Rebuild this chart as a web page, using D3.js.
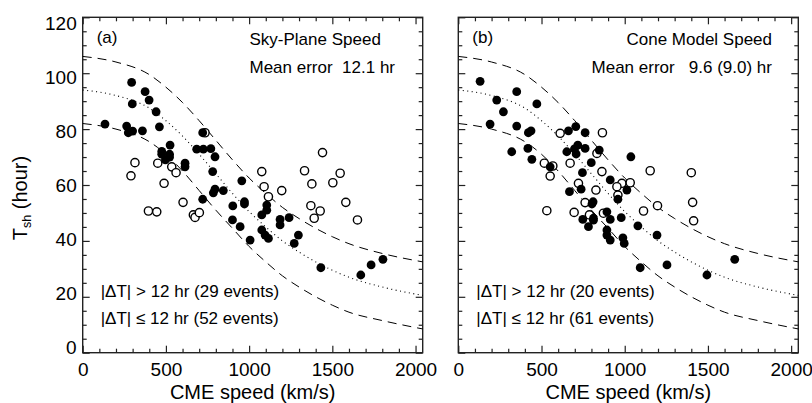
<!DOCTYPE html>
<html>
<head>
<meta charset="utf-8">
<script src="https://cdn.jsdelivr.net/npm/d3@7"></script>
<style>
  body { margin: 0; background: #fff; }
  svg text { font-family: "Liberation Sans", Arial, Helvetica, sans-serif; fill: #000; white-space: pre; }
</style>
</head>
<body>
<svg id="chart" width="812" height="403"></svg>
<script>
// model curves (speed km/s -> hours)
var curveSpeed = [0, 200, 400, 500, 600, 700, 800, 900, 1000, 1100, 1200, 1300, 1400, 1500, 1600, 1800, 2043];
var midHours   = [94, 92, 87.5, 83, 77.5, 71, 64, 57, 50.5, 45, 40, 36, 32.5, 29.5, 27, 23.5, 20.5];
var upperHours = [106, 104, 99.5, 95, 89.5, 83, 76, 69, 62.5, 57, 52, 48, 44.5, 41.5, 39, 35.5, 32.5];
var lowerHours = [82, 80, 75.5, 71, 65, 58, 51, 44.5, 38, 32.5, 27.5, 23.5, 20, 17, 14.5, 11.5, 8.5];

// panel (a): sky-plane speed
var skyGood = [[294,96.7],[375,93.4],[399,90.4],[298,89.0],[441,86.2],[134,81.8],[264,81.1],[274,78.7],[300,79.3],
  [359,79.4],[461,80.8],[721,78.7],[685,72.8],[725,72.8],[770,73.0],[795,70.1],[525,74.3],[475,72.0],[475,71.0],
  [522,71.0],[522,70.0],[497,69.0],[615,67.8],[615,66.5],[781,64.8],[956,61.5],[795,58.5],[845,58.0],[785,57.2],
  [721,54.9],[902,52.5],[972,54.0],[972,53.2],[1106,52.8],[1106,51.0],[1076,49.3],[900,47.5],[946,45.1],[1006,40.3],
  [1076,43.9],[1096,42.1],[1116,40.9],[1186,47.7],[1186,45.7],[1240,48.3],[1296,42.1],[1271,39.1],[1431,30.4],
  [1804,33.4],[1733,31.4],[1671,27.8]];
var skyBad = [[314,68.0],[290,63.3],[489,60.6],[451,67.8],[535,66.5],[561,64.4],[1076,64.8],[1333,65.1],[1441,71.6],
  [1377,60.4],[1503,60.8],[1547,64.2],[1090,59.4],[1196,58.0],[1116,55.8],[603,53.8],[1581,53.8],[735,78.7],
  [395,50.7],[445,50.4],[665,49.3],[675,48.4],[701,50.1],[1371,52.6],[1427,50.7],[1391,48.1],[1651,47.5]];

// panel (b): cone model speed
var coneGood = [[131,97.1],[351,93.4],[231,90.4],[271,86.2],[472,89.0],[191,81.8],[351,81.1],[421,78.7],[437,79.4],
  [321,71.9],[418,73.1],[442,69.2],[552,66.5],[662,79.4],[706,80.9],[762,78.7],[652,71.9],[698,72.9],[708,71.1],
  [718,74.3],[762,73.1],[847,72.5],[799,68.0],[746,64.4],[1037,70.1],[913,61.8],[1013,58.2],[668,57.6],[738,58.5],
  [803,53.2],[810,54.0],[959,54.9],[748,47.7],[782,45.1],[812,48.1],[812,47.4],[893,50.4],[913,47.7],[979,48.3],
  [893,43.9],[893,42.1],[913,40.3],[989,41.1],[997,39.1],[1079,45.4],[1194,42.1],[1093,30.4],[1254,31.4],
  [1494,27.8],[1661,33.4]];
var coneBad = [[866,78.7],[612,78.5],[833,71.3],[672,67.8],[517,67.8],[568,66.8],[552,63.2],[863,64.8],[1153,65.1],
  [1400,64.4],[722,60.6],[827,58.2],[983,60.6],[1033,60.8],[953,59.4],[959,56.4],[1197,52.6],[1408,53.8],
  [1414,47.2],[1113,50.7],[532,50.8],[696,50.2],[762,53.7],[788,49.3],[872,49.9]];

var xTicks = [0, 500, 1000, 1500, 2000];
var yTicks = [0, 20, 40, 60, 80, 100, 120];

var panels = [
  {left: 82.7, good: skyGood, bad: skyBad, tag: "(a)", title: "Sky-Plane Speed", err: "Mean error  12.1 hr",
   anchor: "start", textX: 249.5, big: "|ΔT| > 12 hr (29 events)", small: "|ΔT| ≤ 12 hr (52 events)"},
  {left: 458.3, good: coneGood, bad: coneBad, tag: "(b)", title: "Cone Model Speed", err: "Mean error   9.6 (9.0) hr",
   anchor: "end", textX: 772, big: "|ΔT| > 12 hr (20 events)", small: "|ΔT| ≤ 12 hr (61 events)"}
];

var plotTop = 17.3, plotBottom = 352.7, pw = 340;
var svg = d3.select("#chart");

var y = d3.scaleLinear().domain([0, 120]).range([plotBottom, plotTop]);
// tick labels sit a little inside the end ticks, as in the original
var yLab = d3.scaleLinear().domain([0, 120]).range([plotBottom - 5.5, plotTop + 6]);

panels.forEach(function(p, i) {
  var x = d3.scaleLinear().domain([0, 2043]).range([p.left, p.left + pw]);
  var g = svg.append("g");

  // frame
  g.append("rect")
    .attr("x", p.left).attr("y", plotTop)
    .attr("width", pw).attr("height", plotBottom - plotTop)
    .attr("fill", "none").attr("stroke", "#222").attr("stroke-width", 1.4);

  // ticks on all four sides
  function tickAxis(gen, scale, vals, size, tx, ty, labels) {
    var a = g.append("g").attr("transform", "translate(" + tx + "," + ty + ")")
      .call(gen(scale).tickValues(vals).tickSize(-size).tickPadding(labels ? 10 : 0)
        .tickFormat(labels ? d3.format("d") : ""));
    a.select(".domain").remove();
    a.selectAll("line").attr("stroke", "#222").attr("stroke-width", 1.2);
    a.selectAll("text").style("font-size", "19px").attr("fill", "#000");
    return a;
  }
  var xMinor = d3.range(0, 2001, 100).filter(function(v) { return v % 500 !== 0; });
  var yMinor = d3.range(0, 121, 5).filter(function(v) { return v % 20 !== 0; });

  tickAxis(d3.axisBottom, x, xTicks, 7, 0, plotBottom, true);
  tickAxis(d3.axisBottom, x, xMinor, 4, 0, plotBottom, false);
  tickAxis(d3.axisTop, x, xTicks, 7, 0, plotTop, false);
  tickAxis(d3.axisTop, x, xMinor, 4, 0, plotTop, false);
  tickAxis(d3.axisLeft, y, yTicks, 7, p.left, 0, false);
  tickAxis(d3.axisLeft, y, yMinor, 4, p.left, 0, false);
  tickAxis(d3.axisRight, y, yTicks, 7, p.left + pw, 0, false);
  tickAxis(d3.axisRight, y, yMinor, 4, p.left + pw, 0, false);

  if (i === 0) {
    g.append("g").attr("transform", "translate(" + p.left + ",0)")
      .call(d3.axisLeft(yLab).tickValues(yTicks).tickSize(0).tickPadding(6))
      .call(function(a) {
        a.select(".domain").remove();
        a.selectAll("text").style("font-size", "19px").attr("fill", "#000");
      });
  }

  // model curves
  var line = d3.line()
    .x(function(d, j) { return x(curveSpeed[j]); })
    .y(function(d) { return y(d); })
    .curve(d3.curveMonotoneX);
  g.append("path").attr("d", line(upperHours))
    .attr("fill", "none").attr("stroke", "#000").attr("stroke-width", 1).attr("stroke-dasharray", "9,6");
  g.append("path").attr("d", line(lowerHours))
    .attr("fill", "none").attr("stroke", "#000").attr("stroke-width", 1).attr("stroke-dasharray", "9,6");
  g.append("path").attr("d", line(midHours))
    .attr("fill", "none").attr("stroke", "#000").attr("stroke-width", 1.1).attr("stroke-dasharray", "1,3.5");

  // events
  g.selectAll("circle.bad").data(p.bad).enter().append("circle")
    .attr("class", "bad")
    .attr("cx", function(d) { return x(d[0]); })
    .attr("cy", function(d) { return y(d[1]); })
    .attr("r", 4.1)
    .attr("fill", "#fff").attr("stroke", "#000").attr("stroke-width", 1.4);
  g.selectAll("circle.good").data(p.good).enter().append("circle")
    .attr("class", "good")
    .attr("cx", function(d) { return x(d[0]); })
    .attr("cy", function(d) { return y(d[1]); })
    .attr("r", 4.4)
    .attr("fill", "#000");

  // labels
  g.append("text").attr("x", p.left + 14).attr("y", 43).style("font-size", "17px").text(p.tag);
  g.append("text").attr("x", p.textX).attr("y", 45).attr("text-anchor", p.anchor)
    .style("font-size", "17px").text(p.title);
  g.append("text").attr("x", p.textX).attr("y", 72.5).attr("text-anchor", p.anchor)
    .style("font-size", "17px").text(p.err);
  g.append("text").attr("x", p.left + 18).attr("y", 296.5).style("font-size", "17px").text(p.big);
  g.append("text").attr("x", p.left + 18).attr("y", 324).style("font-size", "17px").text(p.small);

  g.append("text").attr("x", p.left + pw / 2).attr("y", 398.5).attr("text-anchor", "middle")
    .style("font-size", "20px").text("CME speed (km/s)");
});

// y title
var yt = svg.append("text")
  .attr("transform", "translate(27,198) rotate(-90)")
  .attr("text-anchor", "middle")
  .style("font-size", "20px");
yt.append("tspan").text("T");
yt.append("tspan").attr("dy", 4).style("font-size", "12.5px").text("sh");
yt.append("tspan").attr("dy", -4).text(" (hour)");
</script>
</body>
</html>
